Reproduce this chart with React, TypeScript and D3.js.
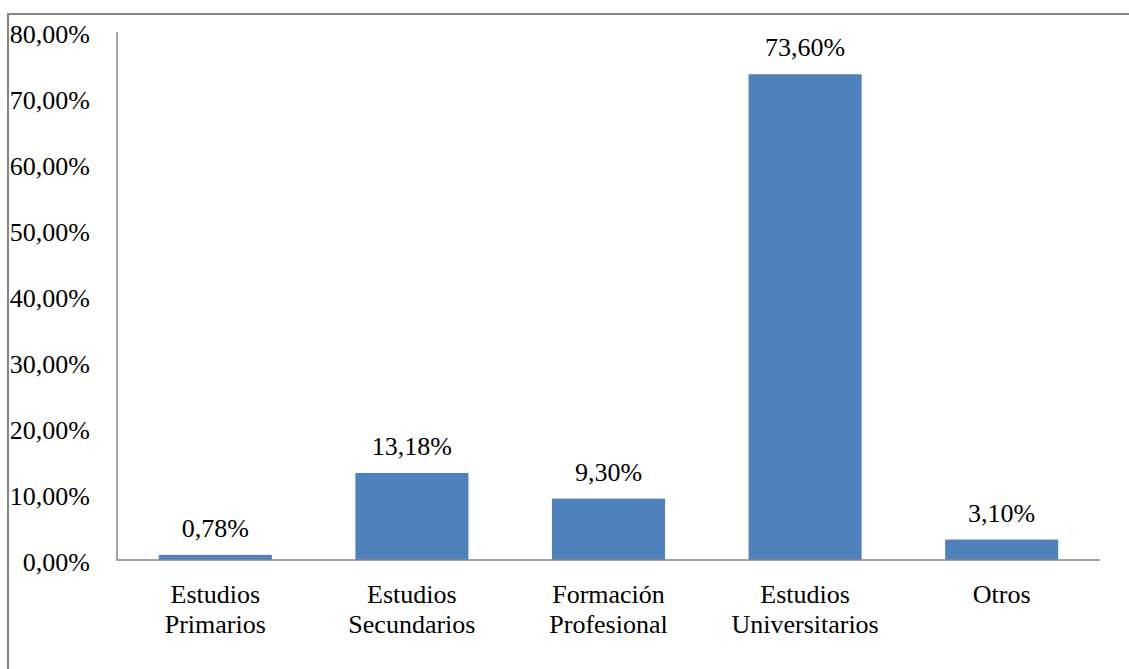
import React, { useEffect, useRef } from "react";
import * as d3 from "d3";

// Nivel de estudios: porcentaje por categoría
const categories: string[][] = [
  ["Estudios", "Primarios"],
  ["Estudios", "Secundarios"],
  ["Formación", "Profesional"],
  ["Estudios", "Universitarios"],
  ["Otros"],
];
const values: number[] = [0.78, 13.18, 9.3, 73.6, 3.1];
const yTicks: number[] = [0, 10, 20, 30, 40, 50, 60, 70, 80];

const W = 1129;
const H = 669;
const FONT = "'Liberation Serif', 'Times New Roman', serif";
const FS = 26;
const BAR = "#4F81BD";
const LINE = "#868686";

const fmt = (v: number) => v.toFixed(2).replace(".", ",") + "%";

export default function App() {
  const ref = useRef<SVGSVGElement | null>(null);

  useEffect(() => {
    const svg = d3.select(ref.current);
    svg.selectAll("*").remove();

    const x0 = 117;
    const x1 = 1100;
    const y0 = 560;
    const y1 = 32;

    const x = d3
      .scaleBand<number>()
      .domain(values.map((_, i) => i))
      .range([x0, x1])
      .paddingInner(0.425)
      .paddingOuter(0.2125);
    const y = d3.scaleLinear().domain([0, 80]).range([y0, y1]);

    // outer frame
    svg
      .append("path")
      .attr("d", `M8,${H}V14H${W}`)
      .attr("fill", "none")
      .attr("stroke", LINE)
      .attr("stroke-width", 2);

    // bars
    svg
      .append("g")
      .selectAll("rect")
      .data(values)
      .join("rect")
      .attr("x", (_, i) => x(i)!)
      .attr("width", x.bandwidth())
      .attr("y", (d) => y(d))
      .attr("height", (d) => y(0) - y(d))
      .attr("fill", BAR);

    // axis lines
    svg
      .append("path")
      .attr("d", `M${x0},${y1}V${y0}H${x1}`)
      .attr("fill", "none")
      .attr("stroke", LINE)
      .attr("stroke-width", 1.5);

    // y tick labels
    svg
      .append("g")
      .selectAll("text")
      .data(yTicks)
      .join("text")
      .attr("x", 90)
      .attr("y", (d) => y(d) + 11)
      .attr("text-anchor", "end")
      .attr("font-family", FONT)
      .attr("font-size", FS)
      .attr("fill", "#000")
      .text((d) => fmt(d));

    // value labels
    svg
      .append("g")
      .selectAll("text")
      .data(values)
      .join("text")
      .attr("x", (_, i) => x(i)! + x.bandwidth() / 2)
      .attr("y", (d) => y(d) - 18)
      .attr("text-anchor", "middle")
      .attr("font-family", FONT)
      .attr("font-size", FS)
      .attr("fill", "#000")
      .text((d) => fmt(d));

    // category labels
    const cat = svg
      .append("g")
      .selectAll("text")
      .data(categories)
      .join("text")
      .attr("text-anchor", "middle")
      .attr("font-family", FONT)
      .attr("font-size", FS)
      .attr("fill", "#000");
    cat
      .selectAll("tspan")
      .data((d, i) => d.map((s) => ({ s, i })))
      .join("tspan")
      .attr("x", (d) => x(d.i)! + x.bandwidth() / 2)
      .attr("y", (_, j) => 603 + j * 30)
      .text((d) => d.s);
  }, []);

  return (
    <div style={{ position: "absolute", left: 0, top: 0, width: W, height: H, background: "#fff" }}>
      <svg ref={ref} width={W} height={H} style={{ display: "block" }} />
    </div>
  );
}
